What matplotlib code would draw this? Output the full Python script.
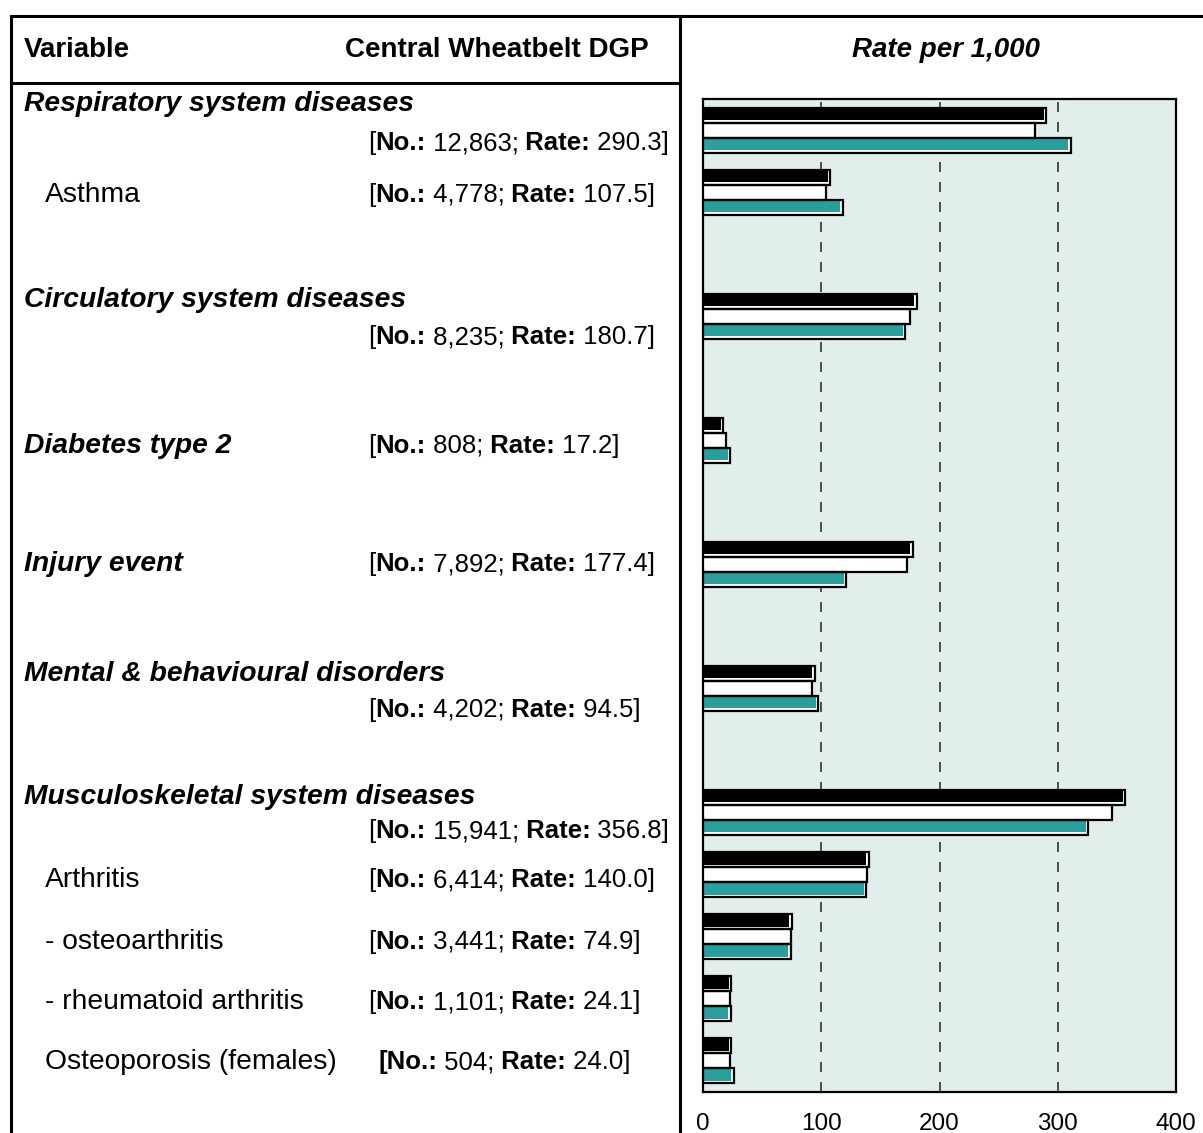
import matplotlib

matplotlib.use("Agg")
import matplotlib.pyplot as plt
import matplotlib.transforms as mtransforms

plt.rcParams["font.family"] = ["Liberation Sans", "DejaVu Sans"]

# rows of the table, top to bottom
labels = [
    "Respiratory system diseases",
    "Asthma",
    "Circulatory system diseases",
    "Diabetes type 2",
    "Injury event",
    "Mental & behavioural disorders",
    "Musculoskeletal system diseases",
    "Arthritis",
    "- osteoarthritis",
    "- rheumatoid arthritis",
    "Osteoporosis (females)",
]
major = [True, False, True, True, True, True, True, False, False, False, False]
slots = [0, 1, 3, 5, 7, 9, 11, 12, 13, 14, 15]
counts = ["12,863", "4,778", "8,235", "808", "7,892", "4,202",
          "15,941", "6,414", "3,441", "1,101", "504"]

# rate per 1,000: black = Central Wheatbelt DGP, then two comparison series
wheatbelt = [290.3, 107.5, 180.7, 17.2, 177.4, 94.5, 356.8, 140.0, 74.9, 24.1, 24.0]
series_white = [281.0, 104.0, 175.0, 19.5, 172.5, 92.5, 346.0, 139.0, 74.5, 23.0, 22.8]
series_teal = [311.0, 118.0, 171.0, 23.0, 121.0, 97.5, 325.5, 138.0, 74.3, 23.5, 26.0]

x_ticks = [0, 100, 200, 300, 400]

W, H = 1203, 1133
fig = plt.figure(figsize=(W / 100, H / 100), dpi=100)

# overlay for table lines and text, in pixel units
bg = fig.add_axes([0, 0, 1, 1])
bg.set_xlim(0, W)
bg.set_ylim(H, 0)
bg.axis("off")

ax = fig.add_axes([703 / W, (H - 1092) / H, (1176 - 703) / W, (1092 - 99) / H])
ax.set_facecolor("#e2eeeb")
ax.set_xlim(0, 400)
ax.set_ylim(15.5, -0.5)
ax.set_yticks([])
ax.set_xticks(x_ticks)
ax.tick_params(axis="x", length=0, pad=15, labelsize=17.5)
for spine in ax.spines.values():
    spine.set_linewidth(1.6)
for t in [100, 200, 300]:
    ax.axvline(t, color="#333333", lw=1.2, ls=(0, (6, 6)), zorder=1)

bar_h = 0.242
series = [(wheatbelt, "black"), (series_white, "white"), (series_teal, "#2a9d9d")]
for k, (vals, color) in enumerate(series):
    pos = [s + (k - 1) * bar_h for s in slots]
    ax.barh(pos, vals, height=bar_h, color="white", edgecolor="none", zorder=2)
    ax.barh([p - 0.022 for p in pos], [v - 2.0 for v in vals], height=bar_h - 0.045,
            color=color, edgecolor="none", zorder=3)
    ax.barh(pos, vals, height=bar_h, color="none", edgecolor="black", lw=1.6, zorder=4)

# table frame
lw = 2.2
bg.plot([11, W], [16, 16], color="black", lw=lw)
bg.plot([11, 11], [16, H], color="black", lw=lw)
bg.plot([680, 680], [16, H], color="black", lw=lw)
bg.plot([11, 680], [83, 83], color="black", lw=lw)

bg.text(24, 50, "Variable", fontsize=20, fontweight="bold", va="center")
bg.text(345, 50, "Central Wheatbelt DGP", fontsize=20, fontweight="bold", va="center")
bg.text(946, 50, "Rate per 1,000", fontsize=20, fontweight="bold", style="italic",
        ha="center", va="center")

row_tf = mtransforms.blended_transform_factory(bg.transData, ax.transData)
title_off = [-0.42, 0.04, -0.26, 0.09, 0.0, -0.24, -0.26, 0.09, 0.08, 0.05, 0.02]
bracket_off = [0.21, 0.04, 0.34, 0.09, 0.0, 0.34, 0.30, 0.09, 0.08, 0.05, 0.02]


def rich_text(x, y, parts, size):
    # parts: list of (string, weight), laid out left to right on one line
    prev = bg.text(x, y, parts[0][0], transform=row_tf, fontsize=size,
                   fontweight=parts[0][1], va="center")
    for s, weight in parts[1:]:
        prev = bg.annotate(s, xy=(1, 0), xycoords=prev, fontsize=size,
                           fontweight=weight, va="bottom", ha="left")


for i, label in enumerate(labels):
    s = slots[i]
    if major[i]:
        bg.text(24, s + title_off[i], label, transform=row_tf, fontsize=20.3,
                fontweight="bold", style="italic", va="center")
    else:
        bg.text(45, s + title_off[i], label, transform=row_tf, fontsize=20.3, va="center")
    rate = f"{wheatbelt[i]:.1f}"
    if label.startswith("Osteoporosis"):
        parts = [("[No.:", "bold"), (" " + counts[i] + ";", "normal"),
                 (" Rate:", "bold"), (" " + rate + "]", "normal")]
        bx = 378
    else:
        parts = [("[", "normal"), ("No.:", "bold"), (" " + counts[i] + ";", "normal"),
                 (" Rate:", "bold"), (" " + rate + "]", "normal")]
        bx = 368
    rich_text(bx, s + bracket_off[i], parts, 18.5)

fig.savefig("out.png", dpi=100)
